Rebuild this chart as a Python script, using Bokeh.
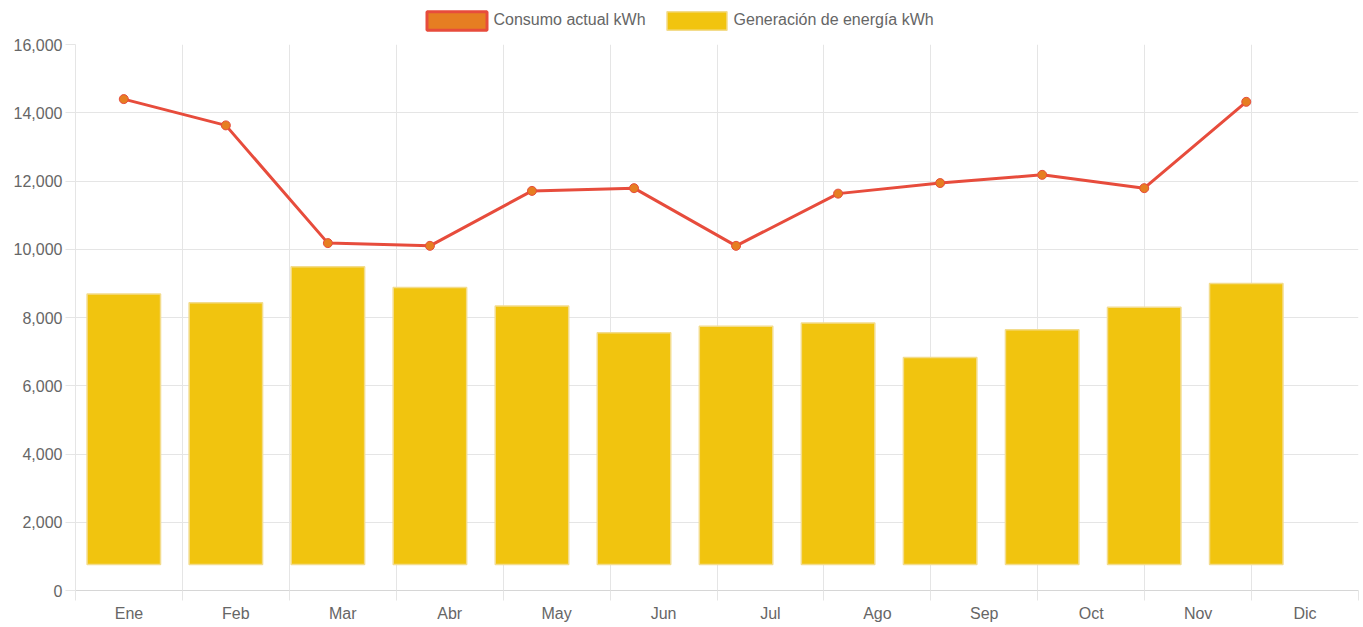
from bokeh.plotting import figure
from bokeh.layouts import column
from bokeh.models import (Range1d, FixedTicker, NumeralTickFormatter, ColumnDataSource,
                          Legend, LegendItem)
from bokeh.embed import file_html
from bokeh.resources import INLINE

# ---- data ----
months = ["Ene", "Feb", "Mar", "Abr", "May", "Jun", "Jul", "Ago", "Sep", "Oct", "Nov", "Dic"]
consumo = [14400, 13630, 10180, 10100, 11710, 11790, 10100, 11630, 11940, 12180, 11790, 14320]
generacion = [8690, 8430, 9490, 8880, 8340, 7550, 7740, 7840, 6830, 7640, 8300, 9000]
gen_base = 760
y_ticks = [0, 2000, 4000, 6000, 8000, 10000, 12000, 14000, 16000]
series_labels = ["Consumo actual kWh", "Generación de energía kWh"]

FONT = "Liberation Sans"
TXT = "#666666"
GRID = "#e5e5e5"
LINE_C = "#E74C3C"
POINT_C = "#E67E22"
BAR_C = "#F1C40F"
BAR_EDGE = "#F3DC8C"

idx = list(range(len(months)))

# ---------------- main chart ----------------
p = figure(frame_width=1283, frame_height=546,
           x_range=Range1d(0, len(months)), y_range=Range1d(0, 16000),
           output_backend="svg", toolbar_location=None,
           min_border_left=75, min_border_right=5, min_border_top=8, min_border_bottom=30)
p.outline_line_color = None

# data series are drawn on their own (hidden) x scale
p.extra_x_ranges = {"data": Range1d(-0.4734, 12.10)}

src = ColumnDataSource(dict(x=idx, consumo=consumo, gen=generacion,
                            base=[gen_base] * len(idx)))

bars = p.vbar(x="x", top="gen", bottom="base", width=0.72, source=src, x_range_name="data",
              fill_color=BAR_C, line_color=BAR_EDGE, line_width=1.5)
line = p.line("x", "consumo", source=src, x_range_name="data",
              line_color=LINE_C, line_width=3)
pts = p.scatter("x", "consumo", source=src, x_range_name="data", size=9,
                fill_color=POINT_C, line_color=LINE_C, line_width=1)

xa = p.xaxis[0]
xa.ticker = FixedTicker(ticks=[i + 0.5 for i in idx], minor_ticks=list(range(len(months) + 1)))
xa.major_label_overrides = {i + 0.5: m for i, m in zip(idx, months)}
xa.major_tick_line_color = None
xa.major_tick_out = 0
xa.major_tick_in = 0
xa.minor_tick_out = 10
xa.minor_tick_in = 0
xa.minor_tick_line_color = GRID
xa.axis_line_color = "#d6d6d6"
xa.major_label_standoff = 4
xa.major_label_text_font = FONT
xa.major_label_text_font_size = "16px"
xa.major_label_text_color = TXT

ya = p.yaxis[0]
ya.ticker = FixedTicker(ticks=y_ticks)
ya.formatter = NumeralTickFormatter(format="0,0")
ya.major_tick_out = 10
ya.major_tick_in = 0
ya.major_tick_line_color = GRID
ya.minor_tick_line_color = None
ya.axis_line_color = GRID
ya.major_label_standoff = 3
ya.major_label_text_font = FONT
ya.major_label_text_font_size = "16px"
ya.major_label_text_color = TXT

p.xgrid.ticker = FixedTicker(ticks=list(range(len(months) + 1)))
p.xgrid.grid_line_color = GRID
p.ygrid.grid_line_color = GRID

# ---------------- legend strip ----------------
# swatch renderers use the real data, are hidden and lie outside this strip's view
lg = figure(width=1363, height=36, x_range=Range1d(1000, 1001), y_range=Range1d(-100001, -100000),
            output_backend="svg", toolbar_location=None,
            x_axis_type=None, y_axis_type=None, min_border=0)
lg.outline_line_color = None
lg.grid.visible = False

sw_line = lg.vbar(x="x", top="consumo", bottom="base", width=0.5, source=src,
                  fill_color=POINT_C, line_color=LINE_C, line_width=3)
sw_bar = lg.vbar(x="x", top="gen", bottom="base", width=0.5, source=src,
                 fill_color=BAR_C, line_color=BAR_EDGE, line_width=1.5)
sw_line.visible = False
sw_bar.visible = False

legend = Legend(items=[LegendItem(label=series_labels[0], renderers=[sw_line]),
                       LegendItem(label=series_labels[1], renderers=[sw_bar])],
                orientation="horizontal", location=(343.5, 4.5),
                glyph_width=75, glyph_height=23, label_height=23,
                label_text_font=FONT, label_text_font_size="16px", label_text_color=TXT,
                spacing=13, label_standoff=0, padding=0, margin=0,
                inactive_fill_alpha=0,
                border_line_color=None, background_fill_alpha=0)
lg.add_layout(legend)

layout = column(lg, p, spacing=0)
open("out.html", "w").write(file_html(layout, INLINE))
